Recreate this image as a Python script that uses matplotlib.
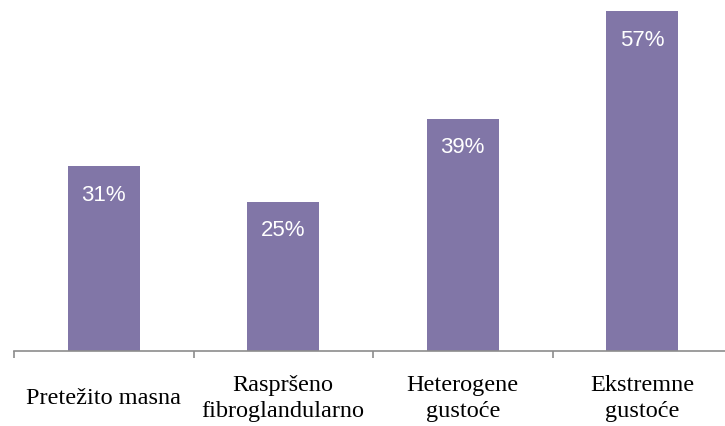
import matplotlib.pyplot as plt

categories = ['Pretežito masna', 'Raspršeno\nfibroglandularno', 'Heterogene\ngustoće', 'Ekstremne\ngustoće']
values = [31, 25, 39, 57]
value_labels = ['31%', '25%', '39%', '57%']

W, H = 725, 427
fig = plt.figure(figsize=(W / 100, H / 100), dpi=100)
# axis line sits at y=352 px, first category boundary at x=14 px
ax = fig.add_axes([14 / W, (H - 352) / H, 718 / W, 352 / H])

x = list(range(len(values)))
ax.bar(x, values, width=0.4, color='#8176A7')
ax.set_xlim(-0.5, len(values) - 0.5)
ax.set_ylim(0, 352 / 5.96)

for xi, v, lab in zip(x, values, value_labels):
    ax.annotate(lab, (xi, v), xytext=(0, -28 * 0.72), textcoords='offset points',
                ha='center', va='center', color='white', fontsize=16,
                family='Liberation Sans')

for xi, cat in zip(x, categories):
    ax.text(xi, -46.5 / 352, cat, transform=ax.get_xaxis_transform(),
            ha='center', va='center', multialignment='center',
            fontsize=17.5, family='Liberation Serif', color='black', linespacing=1.36)

for s in ['top', 'right', 'left']:
    ax.spines[s].set_visible(False)
ax.spines['bottom'].set_color('#8c8c8c')
ax.spines['bottom'].set_linewidth(1.2)
ax.set_yticks([])
ax.set_xticks([i - 0.5 for i in range(len(values) + 1)])
ax.set_xticklabels([])
ax.tick_params(axis='x', length=5, width=1.2, color='#8c8c8c', direction='out')

fig.savefig('out.png', dpi=100)
